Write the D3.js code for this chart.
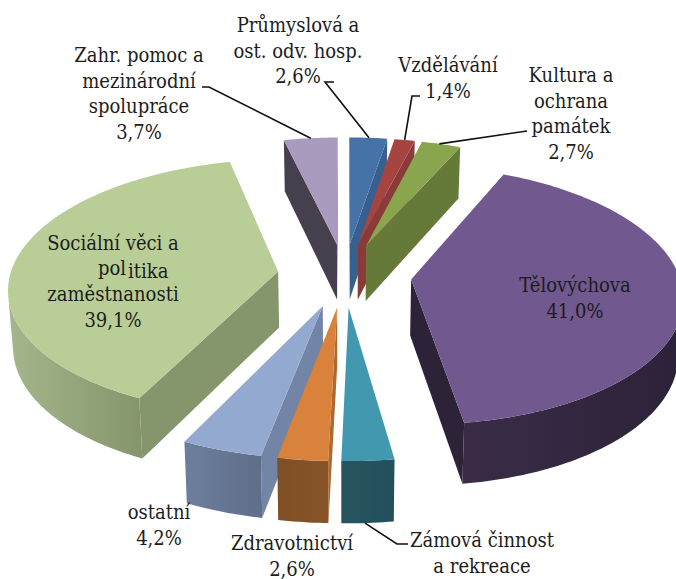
<!DOCTYPE html>
<html>
<head>
<meta charset="utf-8">
<script src="https://cdn.jsdelivr.net/npm/d3@7"></script>
<style>
  html, body { margin: 0; padding: 0; background: #fff; }
  svg { display: block; }
  text { font-family: "DejaVu Serif Condensed", "DejaVu Serif", serif; font-stretch: condensed; font-size: 20px; fill: #1c1c1c; text-anchor: middle; }
</style>
</head>
<body>
<div id="chart"></div>
<script>
// Values, share of expenditure in percent
var categories = ["Průmyslová a ost. odv. hosp.", "Vzdělávání", "Kultura a ochrana památek", "Tělovýchova",
    "Zámová činnost a rekreace", "Zdravotnictví", "ostatní", "Sociální věci a politika zaměstnanosti",
    "Zahr. pomoc a mezinárodní spolupráce"];
var values = [2.6, 1.4, 2.7, 41.0, 2.7, 2.6, 4.2, 39.1, 3.7];

// Colours per slice
var topColors = ["#4572a7", "#a64441", "#89a54e", "#71588f", "#4198af", "#d9823b", "#94a9cf", "#b9cd96", "#a99bbd"];
var sideColors = ["#38608f", "#8a3a38", "#657a39", "#2d2339", "#24535f", "#ae692e", "#7385a6", "#85956c", "#453f4e"];
var wallLeft = ["#38608f", "#8a3a38", "#657a39", "#3a2c48", "#265560", "#7f4f25", "#6d7f9e", "#a6b68c", "#453f4e"];
var wallRight = ["#38608f", "#8a3a38", "#657a39", "#2c2238", "#224f5b", "#875429", "#5f6f8a", "#85956c", "#453f4e"];

// Chart dimensions and the 3D look
var chartWidth = 676;
var chartHeight = 579;
var centerX = 344.5;
var centerY = 275;
var radiusX = 268;
var radiusY = 126.6;
var perspective = 0.12;
var explode = 0.25;
var depth = 56;

var svg = d3.select("#chart").append("svg")
    .attr("width", chartWidth)
    .attr("height", chartHeight);
var defs = svg.append("defs");

// Pie coordinates (x right, y to the back, in radii) to screen
function project(x, y, bottom) {
    var p = 1 / (1 + perspective * y);
    var sx = centerX + radiusX * x * p;
    var sy = centerY - radiusY * y * p;
    if (bottom) {
        sx = centerX + (sx - centerX) * 0.985;
        sy += depth / (1 + 0.08 * y);
    }
    return [sx, sy];
}

var pieLayout = d3.pie().sort(null).value(d => d)(values);

var slices = pieLayout.map(function (d) {
    var mid = (d.startAngle + d.endAngle) / 2;
    return {
        index: d.index,
        start: d.startAngle,
        end: d.endAngle,
        order: mid > Math.PI ? 2 * Math.PI - mid : mid,
        ox: explode * Math.sin(mid),
        oy: explode * Math.cos(mid)
    };
}).sort((a, b) => a.order - b.order);

var line = d3.line();

function rimPoint(s, a, bottom) {
    return project(s.ox + Math.sin(a), s.oy + Math.cos(a), bottom);
}

function apexPoint(s, bottom) {
    return project(s.ox, s.oy, bottom);
}

// A wall faces the viewer when its corners run the right way round
function facing(a, b, aB, bB) {
    return d3.polygonArea([a, b, bB, aB]) > 0;
}

function drawWall(g, a, b, aB, bB, color) {
    if (facing(a, b, aB, bB)) {
        g.append("path")
            .attr("d", line([a, b, bB, aB]) + "Z")
            .attr("fill", color);
    }
}

slices.forEach(function (s) {
    var g = svg.append("g").attr("class", "slice");
    var i = s.index;
    var steps = d3.range(0, 1.0001, 1 / Math.max(4, Math.ceil((s.end - s.start) * 180 / Math.PI)));
    var angle = d3.scaleLinear().domain([0, 1]).range([s.start, s.end]);
    var rimTop = steps.map(t => rimPoint(s, angle(t), false));
    var rimBottom = steps.map(t => rimPoint(s, angle(t), true));
    var last = rimTop.length - 1;
    var apexTop = apexPoint(s, false);
    var apexBottom = apexPoint(s, true);

    // Radial walls
    drawWall(g, apexTop, rimTop[0], apexBottom, rimBottom[0], sideColors[i]);
    drawWall(g, rimTop[last], apexTop, rimBottom[last], apexBottom, sideColors[i]);

    // Outer wall, only the part turned to the viewer
    var front = d3.range(last).filter(k => facing(rimTop[k], rimTop[k + 1], rimBottom[k], rimBottom[k + 1]));
    if (front.length) {
        var first = front[0];
        var stop = front[front.length - 1] + 1;
        var upper = rimTop.slice(first, stop + 1);
        var lower = rimBottom.slice(first, stop + 1).reverse();
        var xs = d3.extent(upper, d => d[0]);
        var grad = defs.append("linearGradient")
            .attr("id", "wall" + i)
            .attr("gradientUnits", "userSpaceOnUse")
            .attr("x1", xs[0]).attr("x2", xs[1])
            .attr("y1", 0).attr("y2", 0);
        grad.append("stop").attr("offset", 0).attr("stop-color", wallLeft[i]);
        grad.append("stop").attr("offset", 1).attr("stop-color", wallRight[i]);
        g.append("path")
            .attr("d", line(upper.concat(lower)) + "Z")
            .attr("fill", "url(#wall" + i + ")");
    }

    // Top face
    g.append("path")
        .attr("d", line([apexTop].concat(rimTop)) + "Z")
        .attr("fill", topColors[i]);
});

// Leader lines, ending on the slice rim
function rimAt(i, share, bottom) {
    var d = pieLayout[i];
    var mid = (d.startAngle + d.endAngle) / 2;
    var s = { ox: explode * Math.sin(mid), oy: explode * Math.cos(mid) };
    return rimPoint(s, d.startAngle + (d.endAngle - d.startAngle) * share, bottom);
}

var leaders = [
    [[334, 82], [325, 82], rimAt(0, 0.52, false)],
    [[420, 96], [412, 96], rimAt(1, 0.5, false)],
    [[527, 131], rimAt(2, 0.45, false)],
    [[408, 544], [397, 544], rimAt(4, 0.55, true)],
    [[202, 87], [209, 87], rimAt(8, 0.5, false)]
];

svg.append("g").selectAll("path")
    .data(leaders)
    .enter()
    .append("path")
    .attr("d", d => line(d))
    .attr("fill", "none")
    .attr("stroke", "#111")
    .attr("stroke-width", 1.6);

// Labels
var labelLines = [
    ["Průmyslová a", "ost. odv. hosp.", "2,6%"],
    ["Vzdělávání", "1,4%"],
    ["Kultura a", "ochrana", "památek", "2,7%"],
    ["Tělovýchova", "41,0%"],
    ["Zámová činnost", "a rekreace"],
    ["Zdravotnictví", "2,6%"],
    ["ostatní", "4,2%"],
    ["Sociální věci a", "", "zaměstnanosti", "39,1%"],
    ["Zahr. pomoc a", "mezinárodní", "spolupráce", "3,7%"]
];
var labelX = [298, 448, 571, 575, 482, 292, 159, 113, 139];
var labelY = [32, 72, 82, 292, 547, 550, 519, 250, 62];

labelLines.forEach(function (lines, i) {
    lines.forEach(function (txt, k) {
        if (!txt) return;
        svg.append("text")
            .attr("x", labelX[i])
            .attr("y", labelY[i] + k * 25.5)
            .text(txt);
    });
});

// The "politika" line sits off centre and breaks in the reference
var broken = svg.append("text")
    .attr("x", 98)
    .attr("y", 275)
    .style("text-anchor", "start");
broken.append("tspan").text("pol");
broken.append("tspan").attr("dx", 2).attr("dy", 3).text("itika");
</script>
</body>
</html>
